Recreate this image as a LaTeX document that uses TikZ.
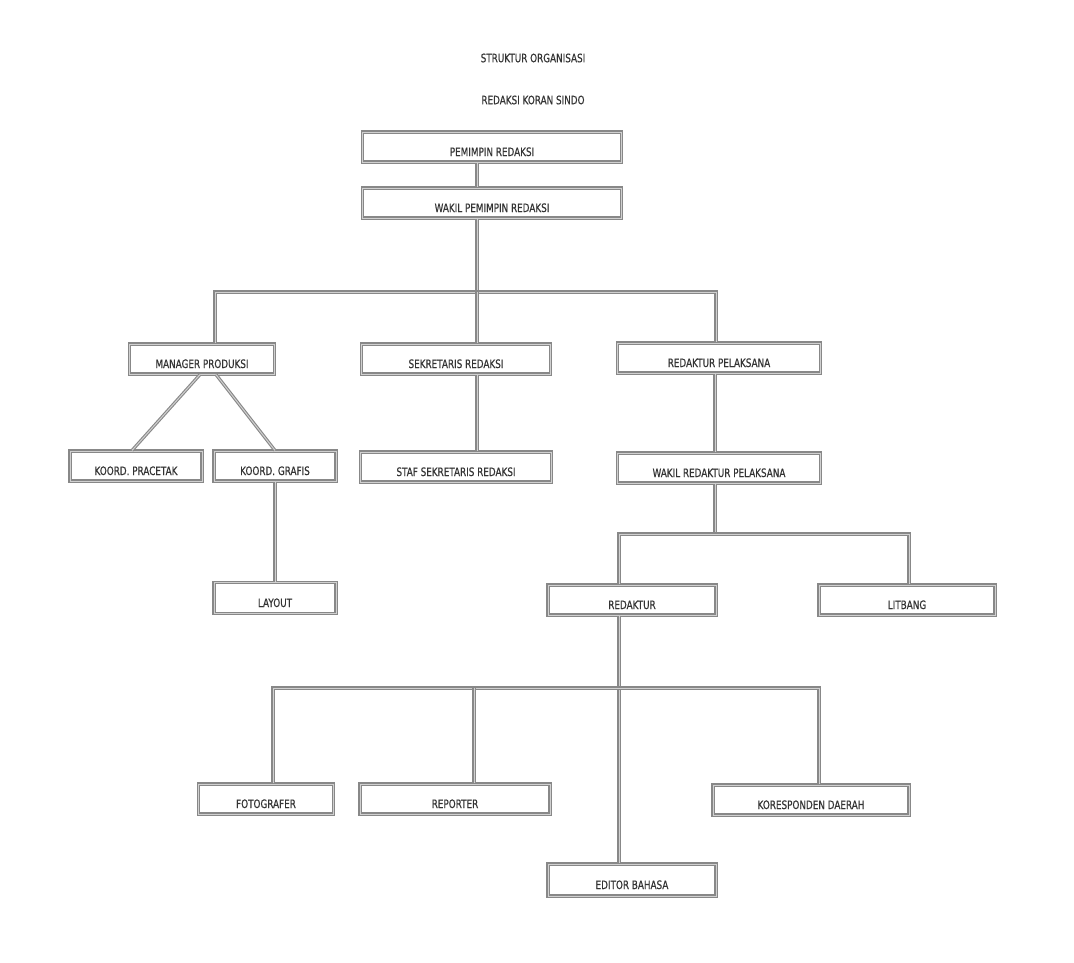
\documentclass[tikz,border=0pt]{standalone}
\usepackage{fontspec}
\newfontfamily\lab{DejaVu Sans}[FakeStretch=0.76,FakeBold=0.5]
\definecolor{boxgray}{HTML}{888888}
\definecolor{boxfill}{HTML}{D0D0D0}
\definecolor{txt}{HTML}{333333}
\tikzset{
  box/.style={rectangle, draw=boxgray, double=boxfill, double distance=1pt, line width=1.1pt,
    minimum height=30pt, inner sep=0pt, text height=18pt, text depth=0pt,
    font=\lab\fontsize{11.6}{13}\selectfont, text=txt},
  link/.style={draw=boxgray, double=boxfill, double distance=1pt, line width=1.1pt, line join=miter},
  ttl/.style={font=\lab\fontsize{11.6}{13}\selectfont, text=txt, inner sep=0pt}
}
\begin{document}
\begin{tikzpicture}[x=1pt,y=-1pt]
\useasboundingbox[fill=white] (0,0) rectangle (1074,962);
% titles
\node[ttl] (t1) at (533,58) {STRUKTUR ORGANISASI};
\node[ttl] (t2) at (533,100) {REDAKSI KORAN SINDO};
% boxes
\node[box, minimum width=259pt] (pem) at (492,147) {PEMIMPIN REDAKSI};
\node[box, minimum width=259pt] (wpem) at (492,203) {WAKIL PEMIMPIN REDAKSI};
\node[box, minimum width=145pt] (mgr) at (202,359) {MANAGER PRODUKSI};
\node[box, minimum width=189pt] (sek) at (456,359) {SEKRETARIS REDAKSI};
\node[box, minimum width=203pt] (rp) at (719,358) {REDAKTUR PELAKSANA};
\node[box, minimum width=132pt] (kp) at (136,466) {KOORD. PRACETAK};
\node[box, minimum width=122pt] (kg) at (275,466) {KOORD. GRAFIS};
\node[box, minimum width=191pt] (staf) at (456,467) {STAF SEKRETARIS REDAKSI};
\node[box, minimum width=203pt] (wrp) at (719,468) {WAKIL REDAKTUR PELAKSANA};
\node[box, minimum width=122pt, minimum height=31pt] (lay) at (275,598) {LAYOUT};
\node[box, minimum width=168pt] (red) at (632,600) {REDAKTUR};
\node[box, minimum width=176pt] (lit) at (907,600) {LITBANG};
\node[box, minimum width=135pt] (foto) at (266,799) {FOTOGRAFER};
\node[box, minimum width=190pt] (rep) at (455,799) {REPORTER};
\node[box, minimum width=196pt] (kor) at (811,800) {KORESPONDEN DAERAH};
\node[box, minimum width=168pt, minimum height=32pt] (edit) at (632,880) {EDITOR BAHASA};
% junction coordinates
\coordinate (b1) at (477,292);
\coordinate (b1l) at (215,292);
\coordinate (b1r) at (716,292);
\coordinate (b2) at (715,534);
\coordinate (b2l) at (619,534);
\coordinate (b2r) at (909,534);
\coordinate (b3) at (619,688);
\coordinate (b3l) at (273,688);
\coordinate (b3m) at (474,688);
\coordinate (b3r) at (819,688);
% connectors
\draw[link] (pem.south -| b1) -- (wpem.north -| b1);
\draw[link] (wpem.south -| b1) -- (b1);
\draw[link] (mgr.north -| b1l) -- (b1l) -- (b1r) -- (rp.north -| b1r);
\draw[link] (b1) -- (sek.north -| b1);
\draw[link] ([xshift=-2pt]mgr.south) -- ([xshift=-4pt]kp.north);
\draw[link] ([xshift=14pt]mgr.south) -- (kg.north);
\draw[link] (kg.south) -- (lay.north);
\draw[link] (sek.south -| b1) -- (staf.north -| b1);
\draw[link] (rp.south -| b2) -- (wrp.north -| b2);
\draw[link] (wrp.south -| b2) -- (b2);
\draw[link] (red.north -| b2l) -- (b2l) -- (b2r) -- (lit.north -| b2r);
\draw[link] (red.south -| b3) -- (edit.north -| b3);
\draw[link] (foto.north -| b3l) -- (b3l) -- (b3r) -- (kor.north -| b3r);
\draw[link] (b3m) -- (rep.north -| b3m);
\end{tikzpicture}
\end{document}
